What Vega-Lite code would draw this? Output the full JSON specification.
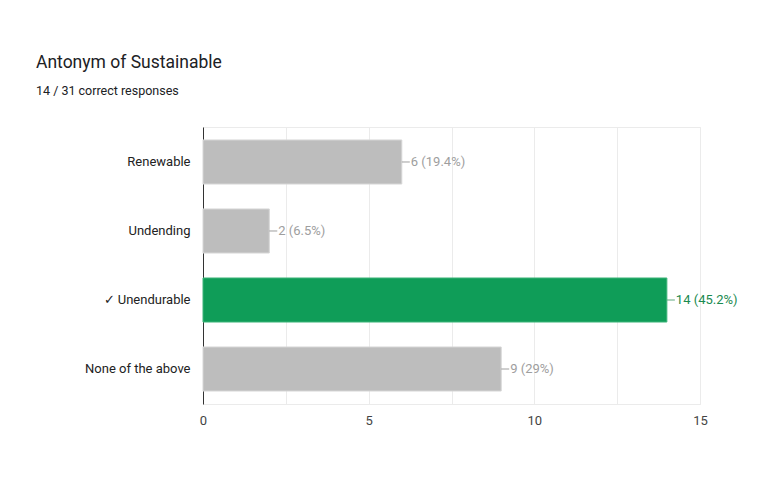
{
  "$schema": "https://vega.github.io/schema/vega-lite/v6.json",
  "autosize": {"type": "none"},
  "width": 497,
  "height": 277,
  "padding": {"left": 203, "top": 127, "right": 68, "bottom": 75},
  "background": "white",
  "title": {
    "text": "Antonym of Sustainable",
    "subtitle": "14 / 31 correct responses",
    "anchor": "start",
    "frame": "group",
    "dx": -167,
    "offset": 30,
    "font": "Roboto",
    "fontSize": 17.5,
    "fontWeight": "normal",
    "color": "#202124",
    "subtitleFont": "Roboto",
    "subtitleFontSize": 12.5,
    "subtitleColor": "#202124",
    "subtitlePadding": 13
  },
  "data": {
    "values": [
      {"answer": "Renewable", "count": 6, "label": "6 (19.4%)", "correct": "no"},
      {"answer": "Undending", "count": 2, "label": "2 (6.5%)", "correct": "no"},
      {"answer": "✓ Unendurable", "count": 14, "label": "14 (45.2%)", "correct": "yes"},
      {"answer": "None of the above", "count": 9, "label": "9 (29%)", "correct": "no"}
    ]
  },
  "encoding": {
    "y": {
      "field": "answer",
      "type": "nominal",
      "sort": null,
      "title": null,
      "scale": {"paddingInner": 0.362, "paddingOuter": 0.188},
      "axis": {
        "domain": true,
        "domainColor": "#333333",
        "domainWidth": 1,
        "ticks": false,
        "grid": false,
        "labelPadding": 13,
        "labelFont": "Roboto",
        "labelFontSize": 13,
        "labelColor": "#222222"
      }
    }
  },
  "layer": [
    {
      "mark": {"type": "bar", "strokeWidth": 1},
      "encoding": {
        "x": {
          "field": "count",
          "type": "quantitative",
          "title": null,
          "scale": {"domain": [0, 15], "nice": false},
          "axis": {
            "values": [0, 2.5, 5, 7.5, 10, 12.5, 15],
            "labelExpr": "datum.value % 5 === 0 ? datum.label : ''",
            "labelFlush": false,
            "labelOverlap": false,
            "grid": true,
            "gridColor": "#ebebeb",
            "domainColor": "#ebebeb",
            "ticks": false,
            "labelPadding": 10,
            "labelFont": "Roboto",
            "labelFontSize": 13,
            "labelColor": "#444444"
          }
        },
        "color": {
          "field": "correct",
          "type": "nominal",
          "scale": {"domain": ["no", "yes"], "range": ["#bdbdbd", "#0f9d58"]},
          "legend": null
        },
        "stroke": {
          "field": "correct",
          "type": "nominal",
          "scale": {"domain": ["no", "yes"], "range": ["#d6d6d6", "#3fb57a"]},
          "legend": null
        }
      }
    },
    {
      "mark": {"type": "rule", "x2Offset": 8, "strokeWidth": 1},
      "encoding": {
        "x": {"field": "count", "type": "quantitative"},
        "x2": {"field": "count"},
        "color": {
          "field": "correct",
          "type": "nominal",
          "scale": {"domain": ["no", "yes"], "range": ["#9e9e9e", "#5fa97f"]},
          "legend": null
        }
      }
    },
    {
      "mark": {"type": "text", "align": "left", "dx": 9, "font": "Roboto", "fontSize": 13},
      "encoding": {
        "x": {"field": "count", "type": "quantitative"},
        "text": {"field": "label"},
        "color": {
          "field": "correct",
          "type": "nominal",
          "scale": {"domain": ["no", "yes"], "range": ["#9e9e9e", "#1a8a50"]},
          "legend": null
        }
      }
    }
  ],
  "resolve": {"scale": {"color": "independent"}},
  "config": {
    "view": {"stroke": "#ebebeb"}
  }
}
